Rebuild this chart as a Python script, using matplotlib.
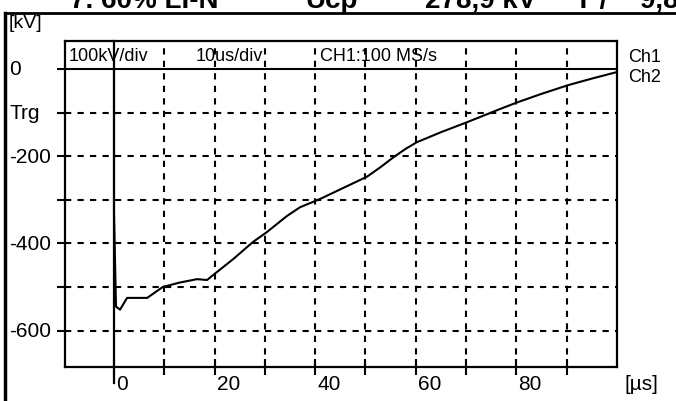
import matplotlib.pyplot as plt
from matplotlib.lines import Line2D
import matplotlib.transforms as mtransforms

plt.rcParams['font.family'] = ['Liberation Sans Narrow', 'Liberation Sans', 'DejaVu Sans']

# Ch2 trace, time in us and voltage in kV
t_us = [0, 0, 0.4, 1.2, 2.6, 6.6, 9.7, 13, 16.5, 18.5, 20, 23.7, 27.6, 30.4, 34.4,
        37, 41, 45, 50.3, 53, 55.5, 58, 60.2, 65, 70.2, 72.8, 76.7, 80.3, 85, 90.3,
        95, 100]
v_kv = [0, -330, -545, -552, -525, -525, -500, -490, -482, -484, -470, -436, -397,
        -374, -337, -317, -298, -276, -247, -225, -203, -183, -168, -145, -122,
        -110, -92, -76, -57, -37, -22, -7]

x_ticks = [0, 10, 20, 30, 40, 50, 60, 70, 80, 90]
x_labels = ['0', '', '20', '', '40', '', '60', '', '80', '']
y_grid = [-100, -200, -300, -400, -500, -600]
y_labels = {0: '0', -100: 'Trg', -200: '-200', -400: '-400', -600: '-600'}
header = ['100kV/div', '10us/div', 'CH1:100 MS/s']
header_t = [-9.1, 16.3, 41.0]
title_parts = ['7. 60% LI-N', 'Ucp', '278,9 kV', 'T /', '9,8']
title_x = [70, 305, 425, 575, 640]

W, H = 676, 402
fig = plt.figure(figsize=(W / 100, H / 100), dpi=100)
ax = fig.add_axes([65 / W, 34 / H, 552 / W, 326 / H])
ax.set_xlim(-9.74, 100)
ax.set_ylim(-683.5, 64.2)

for s in ax.spines.values():
    s.set_linewidth(1.6)

dash = (0, (3, 3))
for x in x_ticks[1:]:
    ax.axvline(x, color='black', lw=1.5, ls=dash)
for y in y_grid:
    ax.axhline(y, color='black', lw=1.5, ls=dash)

# zero reference / header divider
ax.plot([-11.2, 100], [0, 0], color='black', lw=1.5, clip_on=False)
# trigger position marker
ax.plot([0, 0], [64.2, -720], color='black', lw=1.6, clip_on=False)

ax.plot(t_us, v_kv, color='black', lw=1.5)

ax.set_xticks(x_ticks)
ax.set_xticklabels([])
ax.tick_params(axis='x', direction='inout', length=12, width=1.5)
ax.set_yticks(y_grid)
ax.set_yticklabels([])
ax.tick_params(axis='y', direction='out', length=6, width=1.5)

fs = 15
for x, lab in zip(x_ticks, x_labels):
    if lab:
        ax.text(x + 0.4, -700, lab, ha='left', va='top', fontsize=fs)
ax.text(101.5, -700, '[µs]', ha='left', va='top', fontsize=fs)

ylab_tr = mtransforms.blended_transform_factory(fig.transFigure, ax.transData)
for y, lab in y_labels.items():
    ax.text(9 / W, y, lab, ha='left', va='center', fontsize=fs, transform=ylab_tr)
fig.text(9 / W, 1 - 24 / H, '[kV]', ha='left', va='center', fontsize=fs - 1)

for x, lab in zip(header_t, header):
    ax.text(x, 30, lab, ha='left', va='center', fontsize=13)

fig.text(628 / W, 1 - 58 / H, 'Ch1', ha='left', va='center', fontsize=13)
fig.text(628 / W, 1 - 77 / H, 'Ch2', ha='left', va='center', fontsize=13)

for x, lab in zip(title_x, title_parts):
    fig.text(x / W, 1 - 1 / H, lab, ha='left', va='center', fontsize=20,
             fontweight='bold', family='Liberation Sans')

# outer frame
fig.add_artist(Line2D([5 / W, 1], [1 - 14 / H] * 2, transform=fig.transFigure,
                      color='black', lw=2))
fig.add_artist(Line2D([5 / W] * 2, [0, 1 - 14 / H], transform=fig.transFigure,
                      color='black', lw=2.5))

fig.savefig('out.png', dpi=100)
